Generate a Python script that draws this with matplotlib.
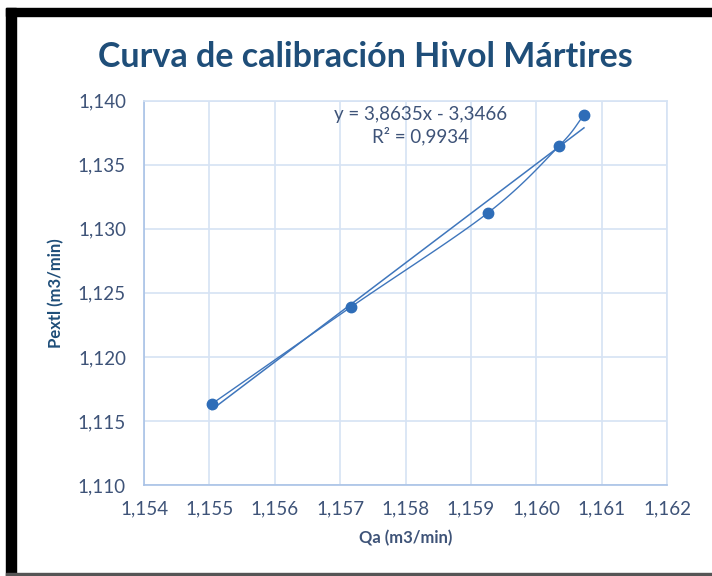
import matplotlib
matplotlib.use("Agg")
import matplotlib.pyplot as plt
import numpy as np
from matplotlib.ticker import FuncFormatter, MultipleLocator
from matplotlib.patches import Rectangle

qa = [1.15504, 1.15717, 1.15926, 1.16035, 1.16073]
pextl = [1.11634, 1.12391, 1.13124, 1.13647, 1.13888]
slope = 3.8635
intercept = -3.3466
r2 = 0.9934

plt.rcParams['font.family'] = ['Lato', 'DejaVu Sans']

title_col = '#1F4E79'
tick_col = '#3E5378'
line_col = '#3F76BC'
grid_col = '#D6E3F4'


def smooth(xs, ys, n=30):
    # catmull-rom, like excel's "smoothed line"
    xs = np.asarray(xs)
    ys = np.asarray(ys)
    px = np.concatenate([[2 * xs[0] - xs[1]], xs, [2 * xs[-1] - xs[-2]]])
    py = np.concatenate([[2 * ys[0] - ys[1]], ys, [2 * ys[-1] - ys[-2]]])
    ox, oy = [], []
    t = np.linspace(0, 1, n)
    for i in range(1, len(px) - 2):
        for p, o in ((px, ox), (py, oy)):
            p0, p1, p2, p3 = p[i - 1], p[i], p[i + 1], p[i + 2]
            o.extend(0.5 * ((2 * p1) + (-p0 + p2) * t
                            + (2 * p0 - 5 * p1 + 4 * p2 - p3) * t ** 2
                            + (-p0 + 3 * p1 - 3 * p2 + p3) * t ** 3))
    return ox, oy


fig = plt.figure(figsize=(7.12, 5.76), dpi=100)
ax = fig.add_axes([144 / 712, 1 - 485 / 576, 523 / 712, 384.3 / 576])

sx, sy = smooth(qa, pextl)
ax.plot(sx, sy, color=line_col, lw=1.0, zorder=3)
ax.plot(qa, pextl, 'o', color='#2E6DB8', ms=7.5, zorder=4)

tx = np.array([min(qa), max(qa)])
ax.plot(tx, slope * tx + intercept, color=line_col, lw=1.1, zorder=3)

ax.set_xlim(1.154, 1.162)
ax.set_ylim(1.110, 1.140)
ax.xaxis.set_major_locator(MultipleLocator(0.001))
ax.yaxis.set_major_locator(MultipleLocator(0.005))
fmt = FuncFormatter(lambda v, p: f"{v:.3f}".replace('.', ','))
ax.xaxis.set_major_formatter(fmt)
ax.yaxis.set_major_formatter(fmt)
ax.grid(True, color=grid_col, lw=1.2)
ax.set_axisbelow(True)
for s in ['top', 'right']:
    ax.spines[s].set_color(grid_col)
    ax.spines[s].set_linewidth(1.2)
for s in ['left', 'bottom']:
    ax.spines[s].set_color('#A9C2E6')
    ax.spines[s].set_linewidth(1.2)
ax.tick_params(length=0, labelsize=13.5, labelcolor=tick_col, pad=11)
ax.tick_params(axis='y', pad=13)

ax.set_xlabel('Qa (m3/min)', fontsize=12, fontweight='bold', color=tick_col, labelpad=9)
ax.set_ylabel('Pextl (m3/min)', fontsize=12, fontweight='bold', color=title_col, labelpad=10)

eq = f"y = {slope:.4f}x - {abs(intercept):.4f}".replace('.', ',')
ax.text(0.528, 0.985, eq + "\n" + f"R² = {r2:.4f}".replace('.', ','),
        transform=ax.transAxes, ha='center', va='top', fontsize=13.5,
        color=tick_col, linespacing=1.2)

fig.text(365 / 712, 1 - 57 / 576, 'Curva de calibración Hivol Mártires',
         ha='center', va='center', fontsize=24.5, fontweight='bold', color=title_col)

# black frame on left/top, grey line at bottom
fig.patches.append(Rectangle((6 / 712, 0), 10 / 712, 1 - 8 / 576,
                             transform=fig.transFigure, color='black', zorder=10))
fig.patches.append(Rectangle((6 / 712, 1 - 16 / 576), 1, 8 / 576,
                             transform=fig.transFigure, color='black', zorder=10))
fig.patches.append(Rectangle((6 / 712, 0), 1, 3 / 576,
                             transform=fig.transFigure, color='#555555', zorder=10))

fig.savefig('out.png', dpi=100)
